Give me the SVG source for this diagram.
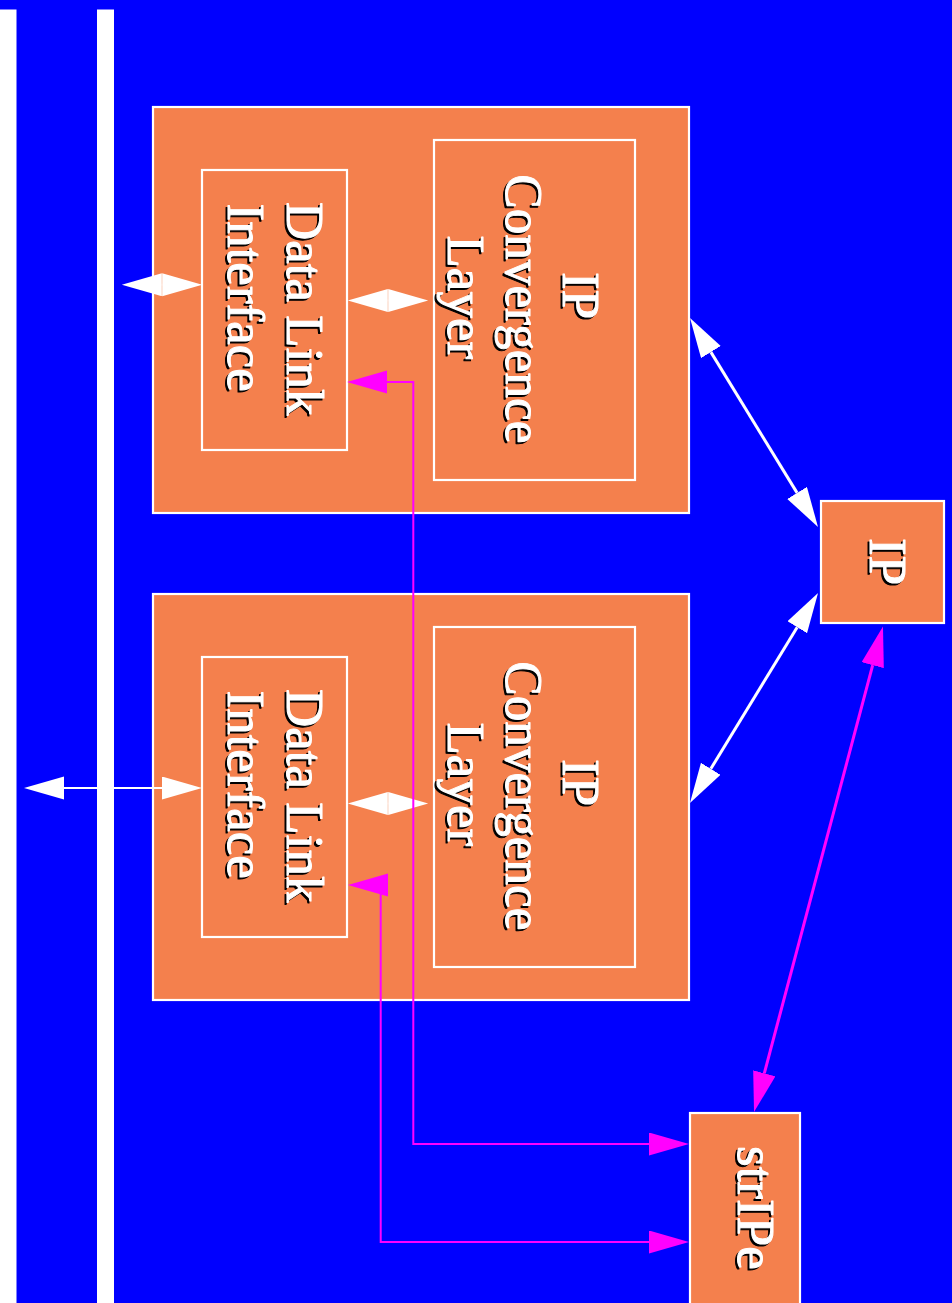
<svg xmlns="http://www.w3.org/2000/svg" width="952" height="1303" viewBox="0 0 952 1303">
  <defs>
    <style>
      .box { fill: #F4804D; stroke: #FFFFFF; stroke-width: 2.2; }
      .bar { fill: #FFFFFF; }
      .lbl { font-family: "Liberation Serif", "Times New Roman", serif; font-size: 53px; stroke-width: 1; stroke-linejoin: round; }
      .lbl .sh { fill: #000000; stroke: #000000; }
      .lbl .fg { fill: #FFFFFF; stroke: #FFFFFF; }
      .w { fill: none; stroke: #FFFFFF; stroke-width: 2; }
      .w3 { fill: none; stroke: #FFFFFF; stroke-width: 3; }
      .m { fill: none; stroke: #FF00FF; stroke-width: 2; }
      .m3 { fill: none; stroke: #FF00FF; stroke-width: 3; }
    </style>
    <!-- arrowheads: reference point on the base, tip 40px ahead -->
    <marker id="aw" markerUnits="userSpaceOnUse" markerWidth="41" markerHeight="24" refX="0" refY="11.5" orient="auto-start-reverse">
      <path d="M0,0 L40,11.5 L0,23 Z" fill="#FFFFFF"/>
    </marker>
    <marker id="am" markerUnits="userSpaceOnUse" markerWidth="41" markerHeight="24" refX="0" refY="11.5" orient="auto-start-reverse">
      <path d="M0,0 L40,11.5 L0,23 Z" fill="#FF00FF"/>
    </marker>
    <marker id="am-left" markerUnits="userSpaceOnUse" markerWidth="41" markerHeight="24" refX="0" refY="11.5" orient="180">
      <path d="M0,0 L40,11.5 L0,23 Z" fill="#FF00FF"/>
    </marker>
  </defs>

  <!-- background -->
  <rect x="0" y="0" width="952" height="1303" fill="#0000FF"/>

  <!-- network rails -->
  <g id="rails">
    <rect class="bar" x="0" y="9.5" width="16.5" height="1294"/>
    <rect class="bar" x="97" y="9.5" width="17" height="1294"/>
  </g>

  <!-- upper interface stack -->
  <g id="stack-top">
    <rect class="box" x="153" y="107" width="536" height="406"/>
  </g>
  <g id="iplayer-top">
    <rect class="box" x="434" y="140" width="201" height="340"/>
    <g class="lbl">
      <text class="sh" transform="translate(561,274) rotate(90)">IP</text>
      <text class="fg" transform="translate(563,272) rotate(90)">IP</text>
      <text class="sh" transform="translate(504,176.5) rotate(90)" textLength="269" lengthAdjust="spacingAndGlyphs">Convergence</text>
      <text class="fg" transform="translate(506,174.5) rotate(90)" textLength="269" lengthAdjust="spacingAndGlyphs">Convergence</text>
      <text class="sh" transform="translate(446,237.5) rotate(90)">Layer</text>
      <text class="fg" transform="translate(448,235.5) rotate(90)">Layer</text>
    </g>
  </g>
  <g id="dli-top">
    <rect class="box" x="202" y="170" width="145" height="280"/>
    <g class="lbl">
      <text class="sh" transform="translate(284.5,204) rotate(90)">Data Link</text>
      <text class="fg" transform="translate(286.5,202) rotate(90)">Data Link</text>
      <text class="sh" transform="translate(226,205.5) rotate(90)">Interface</text>
      <text class="fg" transform="translate(228,203.5) rotate(90)">Interface</text>
    </g>
  </g>

  <!-- lower interface stack -->
  <g id="stack-bottom">
    <rect class="box" x="153" y="594" width="536" height="406"/>
  </g>
  <g id="iplayer-bottom">
    <rect class="box" x="434" y="627" width="201" height="340"/>
    <g class="lbl">
      <text class="sh" transform="translate(561,761) rotate(90)">IP</text>
      <text class="fg" transform="translate(563,759) rotate(90)">IP</text>
      <text class="sh" transform="translate(504,663.5) rotate(90)" textLength="269" lengthAdjust="spacingAndGlyphs">Convergence</text>
      <text class="fg" transform="translate(506,661.5) rotate(90)" textLength="269" lengthAdjust="spacingAndGlyphs">Convergence</text>
      <text class="sh" transform="translate(446,724.5) rotate(90)">Layer</text>
      <text class="fg" transform="translate(448,722.5) rotate(90)">Layer</text>
    </g>
  </g>
  <g id="dli-bottom">
    <rect class="box" x="202" y="657" width="145" height="280"/>
    <g class="lbl">
      <text class="sh" transform="translate(284.5,691) rotate(90)">Data Link</text>
      <text class="fg" transform="translate(286.5,689) rotate(90)">Data Link</text>
      <text class="sh" transform="translate(226,692.5) rotate(90)">Interface</text>
      <text class="fg" transform="translate(228,690.5) rotate(90)">Interface</text>
    </g>
  </g>

  <!-- IP -->
  <g id="ip">
    <rect class="box" x="821" y="501" width="123" height="122"/>
    <g class="lbl">
      <text class="sh" transform="translate(868,540) rotate(90)">IP</text>
      <text class="fg" transform="translate(870,538) rotate(90)">IP</text>
    </g>
  </g>

  <!-- strIPe -->
  <g id="stripe">
    <rect class="box" x="690" y="1113" width="110" height="200"/>
    <g class="lbl">
      <text class="sh" transform="translate(736,1148) rotate(90)">strIPe</text>
      <text class="fg" transform="translate(738,1146) rotate(90)">strIPe</text>
    </g>
  </g>

  <!-- connectors -->
  <g id="connectors">
    <!-- rail to data link (upper) -->
    <path class="w" d="M161.8,284.7 L162.2,284.7" marker-start="url(#aw)" marker-end="url(#aw)"/>
    <!-- data link to convergence layer -->
    <path class="w" d="M387.8,300.5 L388.2,300.5" marker-start="url(#aw)" marker-end="url(#aw)"/>
    <path class="w" d="M387.8,803.5 L388.2,803.5" marker-start="url(#aw)" marker-end="url(#aw)"/>
    <!-- rail to data link (lower) -->
    <path class="w" d="M64,788 L162,788" marker-start="url(#aw)" marker-end="url(#aw)"/>
    <!-- IP to convergence layers -->
    <path class="w3" d="M710.9,352.1 L797.1,492.9" marker-start="url(#aw)" marker-end="url(#aw)"/>
    <path class="w3" d="M797.2,627.2 L710.8,768.8" marker-start="url(#aw)" marker-end="url(#aw)"/>
    <!-- IP to strIPe -->
    <path class="m3" d="M872.7,665.2 L764.3,1073.3" marker-start="url(#am)" marker-end="url(#am)"/>
    <!-- strIPe to data links -->
    <path class="m" d="M387,382 L413.3,382 L413.3,1144 L649,1144" marker-start="url(#am)" marker-end="url(#am)"/>
    <path class="m" d="M388,885 L380.7,885 L380.7,1242 L649,1242" marker-start="url(#am-left)" marker-end="url(#am)"/>
  </g>
</svg>
